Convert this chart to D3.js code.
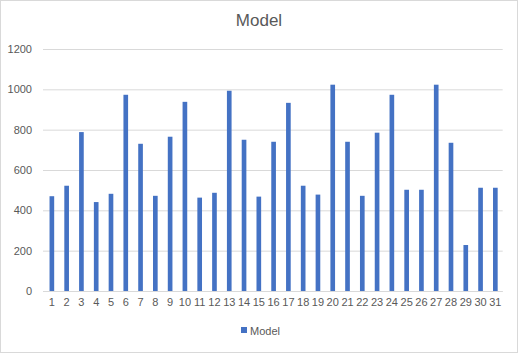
<!DOCTYPE html>
<html>
<head>
<meta charset="utf-8">
<script src="https://cdn.jsdelivr.net/npm/d3@7"></script>
<style>
  body { margin: 0; background: #fff; }
  svg { display: block; font-family: "Liberation Sans", Arial, sans-serif; }
</style>
</head>
<body>
<svg id="chart" width="518" height="353"></svg>
<script>
// chart data
var days = d3.range(1, 32).map(String);
var modelValues = [470, 522, 788, 441, 482, 973, 730, 472, 765, 938,
                   463, 487, 993, 750, 468, 740, 933, 522, 478, 1023,
                   740, 472, 785, 973, 502, 502, 1023, 735, 228, 512, 512];
var yTicks = [0, 200, 400, 600, 800, 1000, 1200];

var WIDTH = 518, HEIGHT = 353;
var TEXT_COLOR = "#595959";
var GRID_COLOR = "#d9d9d9";
var BAR_COLOR = "#4472c4";

var svg = d3.select("#chart");

// outer border
svg.append("rect")
  .attr("x", 0.5).attr("y", 0.5)
  .attr("width", WIDTH - 1).attr("height", HEIGHT - 1)
  .attr("fill", "#fff")
  .attr("stroke", GRID_COLOR);

var plotLeft = 44.5, plotRight = 502.7;
var plotTop = 49, plotBottom = 291;

var xScale = d3.scaleBand()
  .domain(days)
  .range([plotLeft, plotRight])
  .paddingInner(0.685)
  .paddingOuter(0.34);

var yScale = d3.scaleLinear()
  .domain([0, 1200])
  .range([plotBottom, plotTop]);

// gridlines + y labels
var yAxis = d3.axisLeft(yScale)
  .tickValues(yTicks)
  .tickFormat(d3.format("d"))
  .tickSize(-(plotRight - 43))
  .tickPadding(11);

var yG = svg.append("g")
  .attr("transform", "translate(43,0)")
  .call(yAxis);
yG.select(".domain").remove();
yG.selectAll(".tick line").attr("stroke", GRID_COLOR);
yG.selectAll(".tick text")
  .attr("fill", TEXT_COLOR)
  .style("font-size", "11px");

// bars
svg.append("g").selectAll("rect")
  .data(modelValues)
  .enter()
  .append("rect")
  .attr("x", function (d, i) { return xScale(days[i]); })
  .attr("y", function (d) { return yScale(d); })
  .attr("width", xScale.bandwidth())
  .attr("height", function (d) { return plotBottom - yScale(d); })
  .attr("fill", BAR_COLOR);

// x axis
var xAxis = d3.axisBottom(xScale).tickSize(0).tickPadding(7);
var xG = svg.append("g")
  .attr("transform", "translate(0," + plotBottom + ")")
  .call(xAxis);
xG.select(".domain")
  .attr("d", "M43,0.5H" + plotRight)
  .attr("stroke", GRID_COLOR);
xG.selectAll(".tick text")
  .attr("fill", TEXT_COLOR)
  .style("font-size", "11px");

// title
svg.append("text")
  .attr("x", WIDTH / 2)
  .attr("y", 26)
  .attr("text-anchor", "middle")
  .attr("fill", TEXT_COLOR)
  .style("font-size", "17px")
  .text("Model");

// legend
svg.append("rect")
  .attr("x", 241).attr("y", 327)
  .attr("width", 6).attr("height", 6)
  .attr("fill", BAR_COLOR);
svg.append("text")
  .attr("x", 250).attr("y", 334.5)
  .attr("fill", TEXT_COLOR)
  .style("font-size", "11px")
  .text("Model");
</script>
</body>
</html>
